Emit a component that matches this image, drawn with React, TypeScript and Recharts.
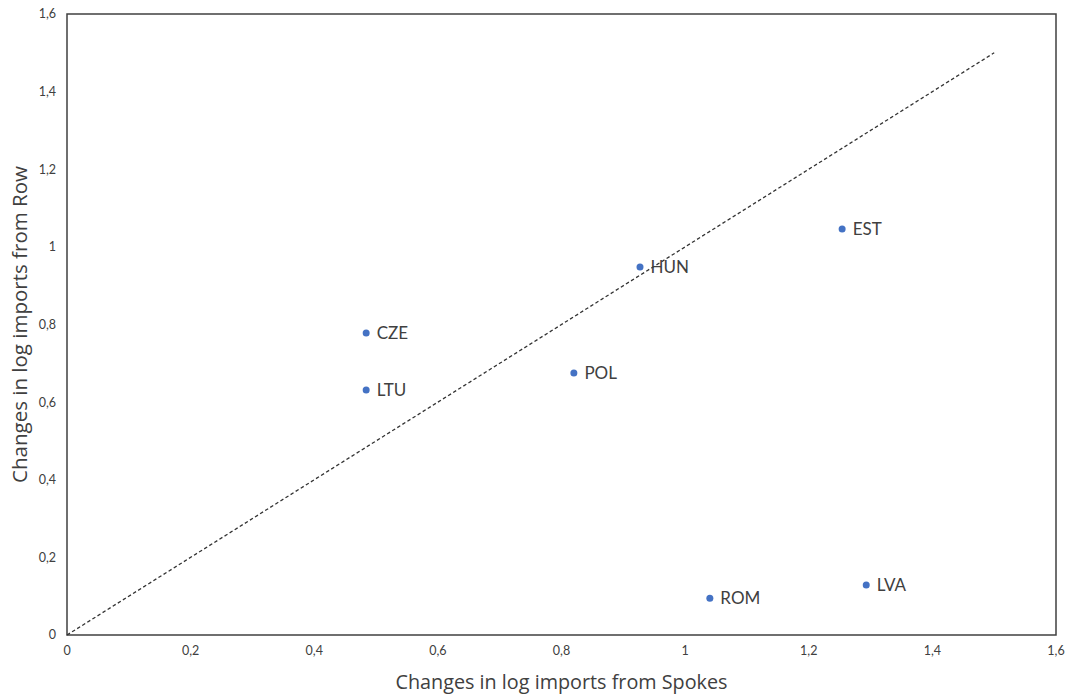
import React from "react";
import {
  ScatterChart,
  Scatter,
  XAxis,
  YAxis,
  ReferenceLine,
  ReferenceArea,
  LabelList,
} from "recharts";

const countries = ["CZE", "LTU", "POL", "HUN", "EST", "ROM", "LVA"];
const spokes = [0.484, 0.484, 0.82, 0.927, 1.254, 1.04, 1.293];
const row = [0.778, 0.631, 0.675, 0.948, 1.046, 0.095, 0.129];
const ticks = [0, 0.2, 0.4, 0.6, 0.8, 1, 1.2, 1.4, 1.6];
const diagonal = [
  { x: 0, y: 0 },
  { x: 1.5, y: 1.5 },
];

const data = countries.map((name, i) => ({ name, x: spokes[i], y: row[i] }));

const fmt = (v: number) => String(v).replace(".", ",");
const FONT = "Lato, 'Open Sans', sans-serif";
const TITLE_FONT = "'Open Sans', Lato, sans-serif";

export default function App() {
  return (
    <div style={{ position: "absolute", left: 0, top: 0, background: "#fff" }}>
      <ScatterChart
        width={1070}
        height={699}
        margin={{ top: 14, right: 14, left: 0, bottom: 0 }}
        style={{ fontFamily: FONT }}
      >
        <XAxis
          type="number"
          dataKey="x"
          domain={[0, 1.6]}
          ticks={ticks}
          tickFormatter={fmt}
          axisLine={false}
          tickLine={false}
          tickSize={6}
          tickMargin={5}
          height={64}
          tick={{ fill: "#404040", fontSize: 12.5, fontFamily: FONT }}
          label={{
            value: "Changes in log imports from Spokes",
            position: "insideBottom",
            offset: 10,
            fill: "#404040",
            fontSize: 19.8,
            fontFamily: TITLE_FONT,
          }}
        />
        <YAxis
          type="number"
          dataKey="y"
          domain={[0, 1.6]}
          ticks={ticks}
          tickFormatter={fmt}
          axisLine={false}
          tickLine={false}
          tickSize={6}
          tickMargin={5}
          width={67}
          tick={{ fill: "#404040", fontSize: 12.5, fontFamily: FONT }}
          label={{
            value: "Changes in log imports from Row",
            angle: -90,
            position: "insideLeft",
            offset: 20,
            style: { textAnchor: "middle" },
            fill: "#404040",
            fontSize: 20.5,
            fontFamily: TITLE_FONT,
          }}
        />
        <ReferenceArea
          x1={0}
          x2={1.6}
          y1={0}
          y2={1.6}
          fill="none"
          fillOpacity={0}
          stroke="#404040"
          strokeWidth={1.5}
          ifOverflow="visible"
        />
        <ReferenceLine
          segment={diagonal}
          stroke="#333333"
          strokeWidth={1.3}
          strokeDasharray="3.5 2.5"
          ifOverflow="visible"
        />
        <Scatter data={data} fill="#4472C4" isAnimationActive={false} shape={(p: any) => <circle cx={p.cx} cy={p.cy} r={3.5} fill="#4472C4" />}>
          <LabelList
            dataKey="name"
            position="right"
            offset={6}
            fill="#404040"
            fontSize={17}
            fontFamily={FONT}
          />
        </Scatter>
      </ScatterChart>
    </div>
  );
}
